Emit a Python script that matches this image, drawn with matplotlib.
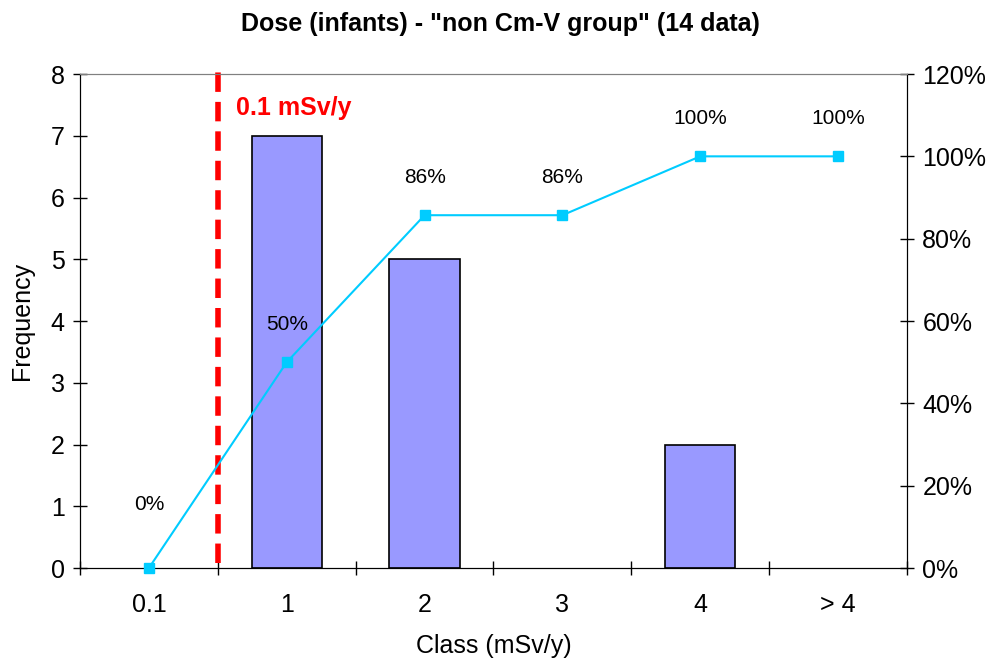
import matplotlib.pyplot as plt
import numpy as np

plt.rcParams['font.family'] = ['Liberation Sans', 'DejaVu Sans']

classes = ["0.1", "1", "2", "3", "4", "> 4"]
freq = [0, 7, 5, 0, 2, 0]
cum_pct = [0, 50, 85.7, 85.7, 100, 100]
cum_labels = ["0%", "50%", "86%", "86%", "100%", "100%"]

fig = plt.figure(figsize=(10, 6.68), dpi=100)
ax = fig.add_axes([0.08, 0.1497, 0.827, 0.7395])
x = np.arange(len(classes))
freq = np.array(freq)

# only draw non-empty bars (empty ones would leave an edge line on the axis)
nz = freq > 0
ax.bar(x[nz], freq[nz], width=0.51, color='#9999FF', edgecolor='black', linewidth=1.2, zorder=2)
ax.set_xlim(-0.5, len(classes) - 0.5)
ax.set_ylim(0, 8)
ax.set_yticks(range(0, 9))
ax.set_xticks(np.arange(-0.5, len(classes), 1.0))
ax.set_xticklabels([])
ax.set_xticks(x, minor=True)
ax.set_xticklabels(classes, minor=True)
ax.tick_params(axis='x', which='major', direction='inout', length=10, width=1)
ax.tick_params(axis='x', which='minor', length=0, pad=18, labelsize=18)
ax.tick_params(axis='y', direction='inout', length=10, width=1, labelsize=18, pad=6)
ax.set_xlabel("Class (mSv/y)", fontsize=18, labelpad=12)
ax.set_ylabel("Frequency", fontsize=18, labelpad=12)
ax.spines['top'].set_color('#808080')

ax2 = ax.twinx()
ax2.plot(x, cum_pct, color='#00CCFF', marker='s', markersize=7, linewidth=1.5,
         zorder=3, clip_on=False)
ax2.set_ylim(0, 120)
ax2.set_yticks(range(0, 121, 20))
ax2.set_yticklabels([f"{v}%" for v in range(0, 121, 20)])
ax2.tick_params(axis='y', direction='inout', length=10, width=1, labelsize=18, pad=6)
ax2.spines['top'].set_color('#808080')
for i, (v, lab) in enumerate(zip(cum_pct, cum_labels)):
    off = 46 if i == 0 else 27
    ax2.annotate(lab, (x[i], v), xytext=(0, off), textcoords='offset points',
                 ha='center', va='center', fontsize=15)

# threshold line
ax.axvline(0.5, ymin=0.01, ymax=1.008, color='red', linestyle=(0, (3.5, 1.8)),
           linewidth=4, clip_on=False, zorder=4)
ax.text(0.63, 7.45, "0.1 mSv/y", color='red', fontsize=18, fontweight='bold', va='center')

fig.suptitle('Dose (infants) - "non Cm-V group" (14 data)', fontsize=18,
             fontweight='bold', y=0.982)
fig.savefig("out.png", dpi=100)
